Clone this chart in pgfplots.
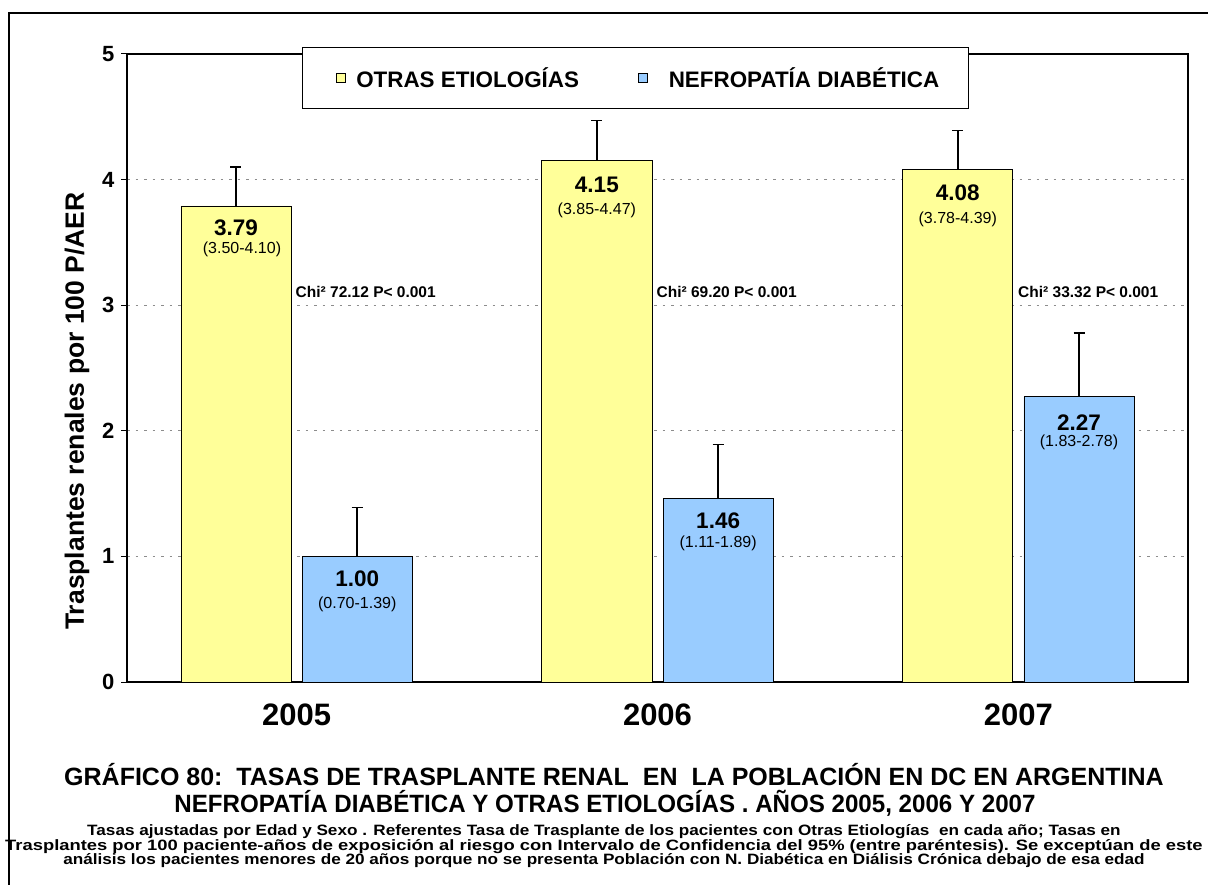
\documentclass[border=0pt]{standalone}
\usepackage{pgfplots}
\pgfplotsset{compat=1.18}
\usepackage{fontspec}
\setmainfont{Liberation Sans}
\definecolor{yel}{HTML}{FFFF99}
\definecolor{blu}{HTML}{99CCFF}
\begin{document}
\begin{tikzpicture}
\useasboundingbox (0,0) rectangle (1208pt,-885pt);
\draw[line width=1.5pt] (9pt,-885pt) -- (9pt,-13pt) -- (1208pt,-13pt);
\begin{axis}[
  at={(127pt,-682pt)}, anchor=south west,
  width=1061pt, height=628pt, scale only axis,
  xmin=-0.47, xmax=2.47, ymin=0, ymax=5,
  ytick={0,1,2,3,4,5}, xtick={0,1,2}, xticklabels={2005,2006,2007},
  ymajorgrids, grid style={gray!90, dash pattern=on 2.5pt off 6pt, line width=1.3pt},
  axis line style={line width=1.5pt},
  tick align=outside, ytick pos=left,
  y tick style={black, line width=1pt},
  major tick length=6pt,
  x tick style={draw=none},
  /pgf/number format/assume math mode=true,
  yticklabel style={font=\bfseries\fontsize{22}{25}\selectfont, xshift=-3pt},
  xticklabel style={font=\bfseries\fontsize{31}{35}\selectfont, yshift=-12pt},
  ylabel={Trasplantes renales por 100 P/AER},
  ylabel style={font=\bfseries\fontsize{26.5}{30}\selectfont, at={(axis description cs:-0.0471,0.4315)}, anchor=center},
  legend columns=2,
  legend style={at={(axis description cs:0.1649,1.0111)}, anchor=north west, draw=black, line width=1pt, fill=white,
    font=\bfseries\fontsize{22.4}{26}\selectfont, inner xsep=27pt, inner ysep=18pt,
    /tikz/column 1/.append style={column sep=8pt},
    /tikz/column 2/.append style={column sep=50pt},
    /tikz/column 3/.append style={column sep=19pt}},
  legend image code/.code={\path (0pt,0pt); \draw[#1, draw=black, line width=0.8pt] (7pt,-4.5pt) rectangle (16pt,4.5pt);},
]
\addplot[ybar, bar width=0.305, bar shift=0pt, fill=yel, draw=black, line width=0.8pt,
  error bars/.cd, y dir=plus, y explicit,
  error bar style={line width=1.5pt, black},
  error mark options={rotate=90, mark size=5.5pt, line width=1.5pt, black}]
  coordinates {(-0.168,3.79) +- (0,0.31) (0.832,4.15) +- (0,0.32) (1.832,4.08) +- (0,0.31)};
\addlegendentry{OTRAS ETIOLOGÍAS}
\addplot[ybar, bar width=0.305, bar shift=0pt, fill=blu, draw=black, line width=0.8pt,
  error bars/.cd, y dir=plus, y explicit,
  error bar style={line width=1.5pt, black},
  error mark options={rotate=90, mark size=5.5pt, line width=1.5pt, black}]
  coordinates {(0.168,1.00) +- (0,0.39) (1.168,1.46) +- (0,0.43) (2.168,2.27) +- (0,0.51)};
\addlegendentry{NEFROPATÍA DIABÉTICA}
% value labels
\begin{scope}[every node/.style={inner sep=0pt}]
\node[font=\bfseries\fontsize{22.5}{26}\selectfont] at ([yshift=-22pt]axis cs:-0.168,3.79) {3.79};
\node[font=\fontsize{16}{19}\selectfont] at ([xshift=6pt,yshift=-43pt]axis cs:-0.168,3.79) {(3.50-4.10)};
\node[font=\bfseries\fontsize{22.5}{26}\selectfont] at ([yshift=-22pt]axis cs:0.168,1.00) {1.00};
\node[font=\fontsize{16}{19}\selectfont] at ([yshift=-48pt]axis cs:0.168,1.00) {(0.70-1.39)};
\node[font=\bfseries\fontsize{22.5}{26}\selectfont] at ([yshift=-24pt]axis cs:0.832,4.15) {4.15};
\node[font=\fontsize{16}{19}\selectfont] at ([yshift=-50pt]axis cs:0.832,4.15) {(3.85-4.47)};
\node[font=\bfseries\fontsize{22.5}{26}\selectfont] at ([yshift=-22pt]axis cs:1.168,1.46) {1.46};
\node[font=\fontsize{16}{19}\selectfont] at ([yshift=-45pt]axis cs:1.168,1.46) {(1.11-1.89)};
\node[font=\bfseries\fontsize{22.5}{26}\selectfont] at ([yshift=-23pt]axis cs:1.832,4.08) {4.08};
\node[font=\fontsize{16}{19}\selectfont] at ([yshift=-50pt]axis cs:1.832,4.08) {(3.78-4.39)};
\node[font=\bfseries\fontsize{22.5}{26}\selectfont] at ([yshift=-26pt]axis cs:2.168,2.27) {2.27};
\node[font=\fontsize{16}{19}\selectfont] at ([yshift=-45pt]axis cs:2.168,2.27) {(1.83-2.78)};
\node[anchor=west, font=\bfseries\fontsize{15.5}{18}\selectfont] at (axis cs:-0.003,3.109) {Chi² 72.12 P< 0.001};
\node[anchor=west, font=\bfseries\fontsize{15.5}{18}\selectfont] at (axis cs:0.997,3.109) {Chi² 69.20 P< 0.001};
\node[anchor=west, font=\bfseries\fontsize{15.5}{18}\selectfont] at (axis cs:1.999,3.109) {Chi² 33.32 P< 0.001};
\end{scope}
\end{axis}
\node[font=\bfseries\fontsize{25}{28}\selectfont] at (614pt,-775pt) {GRÁFICO 80:\ \ TASAS DE TRASPLANTE RENAL\ \ EN\ \ LA POBLACIÓN EN DC EN ARGENTINA};
\node[font=\bfseries\fontsize{25}{28}\selectfont] at (605pt,-803pt) {\scalebox{0.965}[1]{NEFROPATÍA DIABÉTICA Y OTRAS ETIOLOGÍAS . AÑOS 2005, 2006 Y 2007}};
\node[font=\bfseries\fontsize{15}{16}\selectfont] at (604pt,-832pt) {\scalebox{1.143}[1]{Tasas ajustadas por Edad y Sexo . Referentes Tasa de Trasplante de los pacientes con Otras Etiologías\ \ en cada año; Tasas en}};
\node[font=\bfseries\fontsize{15}{16}\selectfont] at (604pt,-847pt) {\scalebox{1.225}[1]{Trasplantes por 100 paciente-años de exposición al riesgo con Intervalo de Confidencia del 95\% (entre paréntesis). Se exceptúan de este}};
\node[font=\bfseries\fontsize{15}{16}\selectfont] at (604pt,-861pt) {\scalebox{1.144}[1]{análisis los pacientes menores de 20 años porque no se presenta Población con N. Diabética en Diálisis Crónica debajo de esa edad}};
\end{tikzpicture}
\end{document}
